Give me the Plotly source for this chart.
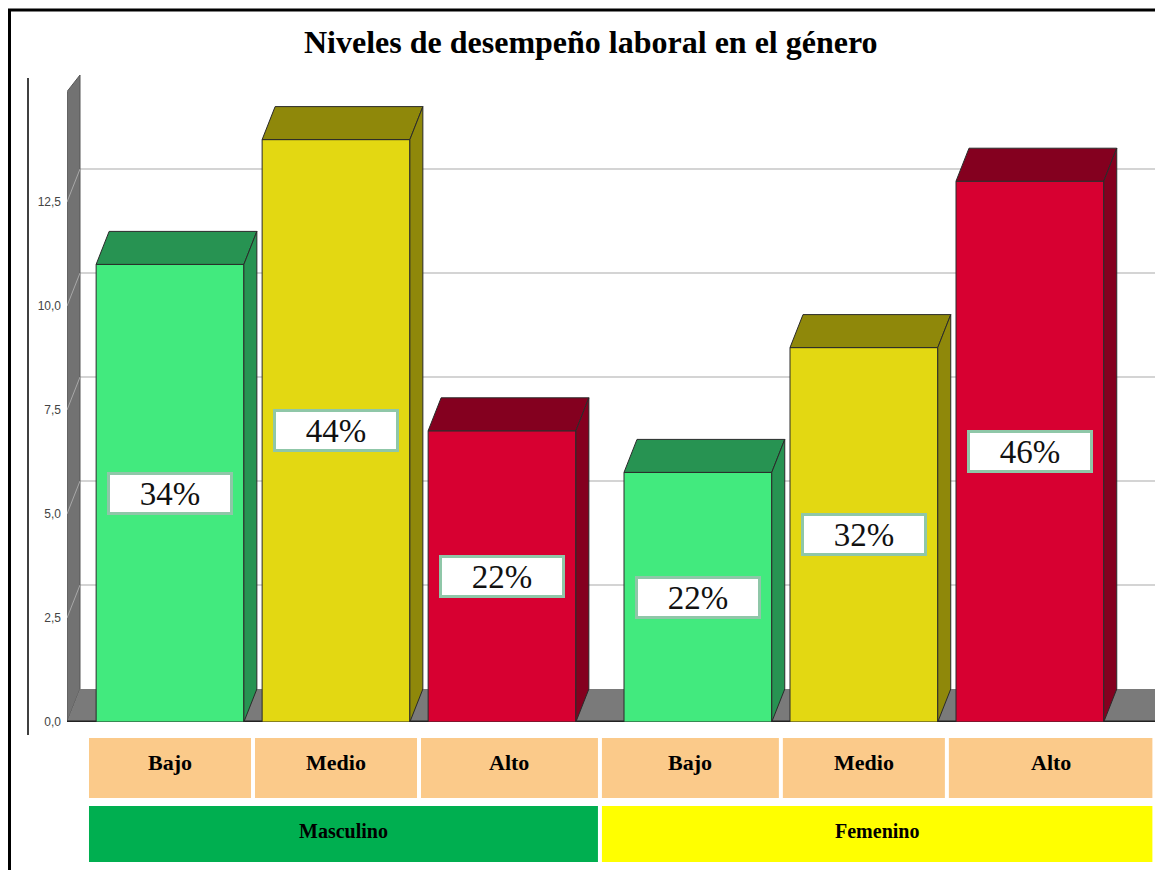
import plotly.graph_objects as go

# ---------------- data ----------------
title_text = "Niveles de desempeño laboral en el género"
groups = ["Masculino", "Femenino"]
levels = ["Bajo", "Medio", "Alto"]
masc_values = [11, 14, 7]
fem_values = [6, 9, 13]
masc_pct = ["34%", "44%", "22%"]
fem_pct = ["22%", "32%", "46%"]
y_tickvals = [0, 2.5, 5, 7.5, 10, 12.5]
y_ticktext = ["0,0", "2,5", "5,0", "7,5", "10,0", "12,5"]

# ---------------- styles ----------------
front_colors = {"Bajo": "#42EA7E", "Medio": "#E3D812", "Alto": "#D70031"}
dark_colors = {"Bajo": "#279352", "Medio": "#8F880A", "Alto": "#84001F"}
group_colors = {"Masculino": "#00AF50", "Femenino": "#FFFF00"}
cell_color = "#FBCA8A"
SERIF = "Liberation Serif, Times New Roman, serif"

OFF = 8                    # page body margin offset
W, H = 1163, 870
PLOT_L, PLOT_T, PLOT_B = 67, 75, 722     # page px
ML = PLOT_L - OFF
MT = PLOT_T - OFF
MB = H - (PLOT_B - OFF)
MR = 0
unit_px = 166.0            # px per x unit
x0_page = 170.0            # page px of first bar centre
px_per_y = 41.6
y_top = (PLOT_B - PLOT_T) / px_per_y
x_left = (PLOT_L - x0_page) / unit_px
x_right = (W + OFF - x0_page) / unit_px

bar_w = 0.89
dx = 13 / unit_px          # depth offset (x units)
dy = 33 / px_per_y         # depth offset (y units)
group_gap = 3.18


def paper_y(py_page):
    return (PLOT_B - py_page) / (PLOT_B - PLOT_T)


def paper_x(px_page):
    return (px_page - PLOT_L) / (W - ML - MR)


xs, vals, labs, lvls, grp = [], [], [], [], []
for gi, (g, v, p) in enumerate(zip(groups, [masc_values, fem_values], [masc_pct, fem_pct])):
    for li, lv in enumerate(levels):
        xs.append(gi * group_gap + li)
        vals.append(v[li])
        labs.append(p[li])
        lvls.append(lv)
        grp.append(g)

fig = go.Figure()

# front faces
fig.add_trace(go.Bar(
    x=xs, y=vals, width=bar_w,
    marker=dict(color=[front_colors[l] for l in lvls],
                line=dict(color="#2a2a2a", width=1)),
    hoverinfo="skip", showlegend=False,
))

# top and side faces
for x, v, lv in zip(xs, vals, lvls):
    l, r = x - bar_w / 2, x + bar_w / 2
    fig.add_trace(go.Scatter(
        x=[l, l + dx, r + dx, r, l], y=[v, v + dy, v + dy, v, v],
        fill="toself", fillcolor=dark_colors[lv], mode="lines",
        line=dict(color="#2a2a2a", width=1), hoverinfo="skip", showlegend=False))
    fig.add_trace(go.Scatter(
        x=[r, r, r + dx, r + dx, r], y=[0, v, v + dy, dy, 0],
        fill="toself", fillcolor=dark_colors[lv], mode="lines",
        line=dict(color="#2a2a2a", width=1), hoverinfo="skip", showlegend=False))

shapes = []
# gridlines on back wall
for t in y_tickvals[1:]:
    shapes.append(dict(type="line", xref="x", yref="y", layer="below",
                       x0=x_left + dx, x1=x_right, y0=t + dy, y1=t + dy,
                       line=dict(color="#D4D4D4", width=2)))
# left wall
shapes.append(dict(type="path", xref="x", yref="y", layer="below",
                   path=f"M {x_left},0 L {x_left},{y_top - 0.4} L {x_left + dx},{y_top} "
                        f"L {x_left + dx},{dy} Z",
                   fillcolor="#727272", line=dict(color="#555555", width=1)))
# tick connectors on wall
for t in y_tickvals[1:]:
    shapes.append(dict(type="line", xref="x", yref="y", layer="below",
                       x0=x_left, x1=x_left + dx, y0=t, y1=t + dy,
                       line=dict(color="#A8A8A8", width=1)))
# floor
shapes.append(dict(type="path", xref="x", yref="y", layer="below",
                   path=f"M {x_left},0 L {x_left + dx},{dy} L {x_right},{dy} L {x_right},0 Z",
                   fillcolor="#7A7A7A", line=dict(width=0)))
shapes.append(dict(type="line", xref="x", yref="y", layer="below",
                   x0=x_left, x1=x_right, y0=0, y1=0,
                   line=dict(color="#222222", width=3)))

annotations = []
# value labels
for x, v, lab in zip(xs, vals, labs):
    annotations.append(dict(x=x, y=v / 2, xref="x", yref="y", text=lab, showarrow=False,
                            xanchor="center", yanchor="middle",
                            font=dict(family=SERIF, size=33, color="#111111"),
                            bgcolor="white", bordercolor="#8FC7A8", borderwidth=3,
                            borderpad=1, width=118, height=35))

# category table below plot
gap = 0.012
row1 = (paper_y(738), paper_y(798))
row2 = (paper_y(806), paper_y(862))
group_mid = (2 + group_gap) / 2
for gi, g in enumerate(groups):
    gx = [x for x, gg in zip(xs, grp) if gg == g]
    left_edge = gx[0] - 0.5 if gi == 0 else group_mid
    right_edge = group_mid if gi == 0 else gx[-1] + 0.75
    edges = [left_edge] + [(a + b) / 2 for a, b in zip(gx[:-1], gx[1:])] + [right_edge]
    for li, lv in enumerate(levels):
        a, b = edges[li] + gap, edges[li + 1] - gap
        shapes.append(dict(type="rect", xref="x", yref="paper", x0=a, x1=b,
                           y0=row1[1], y1=row1[0], fillcolor=cell_color, line=dict(width=0)))
        annotations.append(dict(x=(a + b) / 2, y=(row1[0] + row1[1]) / 2, xref="x", yref="paper",
                                xanchor="center", yanchor="middle", yshift=6,
                                text=f"<b>{lv}</b>", showarrow=False,
                                font=dict(family=SERIF, size=22, color="black")))
    a, b = edges[0] + gap, edges[-1] - gap
    shapes.append(dict(type="rect", xref="x", yref="paper", x0=a, x1=b,
                       y0=row2[1], y1=row2[0], fillcolor=group_colors[g], line=dict(width=0)))
    annotations.append(dict(x=(a + b) / 2, y=(row2[0] + row2[1]) / 2, xref="x", yref="paper",
                            xanchor="center", yanchor="middle", yshift=3,
                            text=f"<b>{g}</b>", showarrow=False,
                            font=dict(family=SERIF, size=20, color="black")))

# frame lines
shapes.append(dict(type="line", xref="paper", yref="paper",
                   x0=paper_x(8), x1=paper_x(W + OFF), y0=paper_y(10), y1=paper_y(10),
                   line=dict(color="black", width=3)))
shapes.append(dict(type="line", xref="paper", yref="paper",
                   x0=paper_x(9.5), x1=paper_x(9.5), y0=paper_y(9), y1=paper_y(H + OFF),
                   line=dict(color="black", width=3)))
shapes.append(dict(type="line", xref="paper", yref="paper",
                   x0=paper_x(28), x1=paper_x(28), y0=paper_y(78), y1=paper_y(735),
                   line=dict(color="black", width=1.5)))

# title
annotations.append(dict(x=paper_x(591), y=paper_y(42), xref="paper", yref="paper",
                        xanchor="center", yanchor="middle",
                        text=f"<b>{title_text}</b>", showarrow=False,
                        font=dict(family=SERIF, size=32, color="black")))

fig.update_layout(
    width=W, height=H,
    margin=dict(l=ML, r=MR, t=MT, b=MB),
    paper_bgcolor="white", plot_bgcolor="white",
    showlegend=False,
    shapes=shapes, annotations=annotations,
    xaxis=dict(range=[x_left, x_right], showgrid=False, zeroline=False,
               showticklabels=False, ticks="", showline=False, fixedrange=True),
    yaxis=dict(range=[0, y_top], showgrid=False, zeroline=False, showline=False,
               tickvals=y_tickvals, ticktext=y_ticktext, ticks="",
               ticklabelstandoff=5,
               tickfont=dict(family="Liberation Sans Narrow, Arial Narrow, Liberation Sans, sans-serif",
                             size=12, color="#444444"),
               fixedrange=True),
)

fig.write_html("out.html")
